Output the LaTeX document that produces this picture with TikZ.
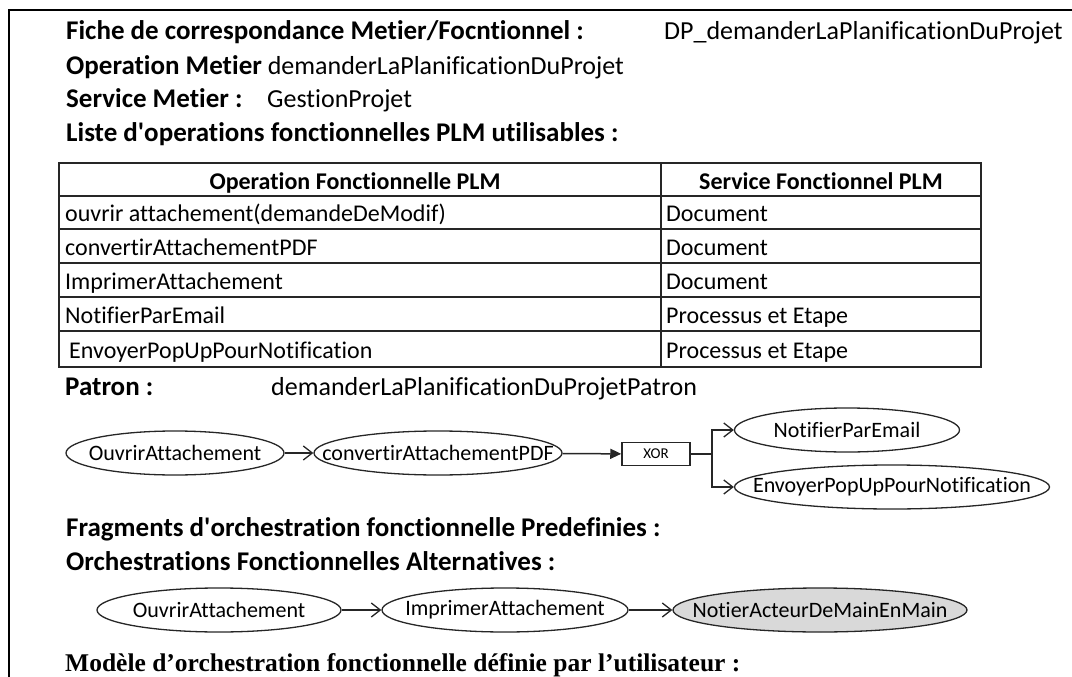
\documentclass[tikz,border=0pt]{standalone}
\usepackage{fontspec}
\setmainfont{Carlito}[Ligatures=NoCommon]
\newfontfamily\timesfam{Liberation Serif}
\usetikzlibrary{arrows.meta,shapes.geometric}
\newcommand\fHd{\fontsize{27}{32}\selectfont}
\newcommand\fHr{\fontsize{26}{31}\selectfont}
\newcommand\fTb{\fontsize{24}{29}\selectfont}
\newcommand\fEl{\fontsize{22}{26}\selectfont}
\newcommand\fXo{\fontsize{15}{18}\selectfont}
\newcommand\fTm{\fontsize{25.5}{30}\selectfont}
\begin{document}
\begin{tikzpicture}[x=1pt,y=-1pt,
  txt/.style={anchor=base west, inner sep=0pt, text=black},
  ctxt/.style={anchor=base, inner sep=0pt, text=black},
  ell/.style={ellipse, draw=black!85, line width=1.3pt, minimum height=44pt, inner sep=0pt, font=\fEl},
  barb/.style={-{Straight Barb[length=9pt,width=14pt]}, line width=1.3pt, draw=black!85},
  tri/.style={-{Triangle[length=11pt,width=10pt]}, line width=1.5pt, draw=black!85},
  plain/.style={line width=1.5pt, draw=black!85},
  gridline/.style={line width=1.8pt, draw=black!85}]
\useasboundingbox (0,0) rectangle (1072,677);
% frame
\draw[line width=2.6pt] (9,690) -- (9,10) -- (1085,10);
% header
\node[txt,font=\fHd\bfseries] (h1) at (66,40) {Fiche de correspondance Metier/Focntionnel :};
\node[txt,font=\fHr] (h1v) at (664,40) {DP\_demanderLaPlanificationDuProjet};
\node[txt,font=\fHr] (h2) at (66,75) {{\fHd\bfseries Operation Metier} demanderLaPlanificationDuProjet};
\node[txt,font=\fHd\bfseries] (h3) at (66,108) {Service Metier :};
\node[txt,font=\fHr] (h3v) at (267,108) {GestionProjet};
\node[txt,font=\fHd\bfseries] (h4) at (66,142) {Liste d\textquotesingle operations fonctionnelles PLM utilisables :};
% table
\draw[gridline] (59,163) rectangle (981,367);
\foreach \yy in {196,229,263,297,331} \draw[gridline] (59,\yy) -- (981,\yy);
\draw[gridline] (661,163) -- (661,367);
\node[ctxt,font=\fTb\bfseries] (th1) at (355,189) {Operation Fonctionnelle PLM};
\node[ctxt,font=\fTb\bfseries] (th2) at (821,189) {Service Fonctionnel PLM};
\node[txt,font=\fTb] (r1a) at (65,221.5) {ouvrir attachement(demandeDeModif)};
\node[txt,font=\fTb] (r1b) at (666,221.5) {Document};
\node[txt,font=\fTb] (r2a) at (65,255) {convertirAttachementPDF};
\node[txt,font=\fTb] (r2b) at (666,255) {Document};
\node[txt,font=\fTb] (r3a) at (65,289) {ImprimerAttachement};
\node[txt,font=\fTb] (r3b) at (666,289) {Document};
\node[txt,font=\fTb] (r4a) at (65,323) {NotifierParEmail};
\node[txt,font=\fTb] (r4b) at (666,323) {Processus et Etape};
\node[txt,font=\fTb] (r5a) at (69,358) {EnvoyerPopUpPourNotification};
\node[txt,font=\fTb] (r5b) at (666,358) {Processus et Etape};
% patron
\node[txt,font=\fHd\bfseries] (p1) at (65,395) {Patron :};
\node[txt,font=\fHr] (p1v) at (271,395) {demanderLaPlanificationDuProjetPatron};
\node[ell, minimum width=218pt] (o1) at (175,453) {\makebox[0pt]{OuvrirAttachement}};
\node[ell, minimum width=248pt] (cv) at (438,453) {\makebox[0pt]{convertirAttachementPDF}};
\node[draw=black!85, line width=1.5pt, minimum width=68pt, minimum height=23pt, inner sep=0pt, font=\fXo] (xr) at (656,454) {XOR};
\node[ell, minimum width=225pt] (ne) at (847,430) {\makebox[0pt]{NotifierParEmail}};
\node[ell, minimum width=315pt] (ep) at (892,487) {\makebox[0pt]{EnvoyerPopUpPourNotification}};
\coordinate (jn) at (712,454);
\draw[barb] (o1) -- (cv);
\draw[tri] (cv) -- (xr);
\draw[plain] (xr) -- (jn);
\draw[barb] (jn) |- (ne.west);
\draw[barb] (jn) |- (ep.west);
% fragments
\node[txt,font=\fHd\bfseries] (f1) at (66,536) {Fragments d\textquotesingle orchestration fonctionnelle Predefinies :};
\node[txt,font=\fHd\bfseries] (f2) at (66,570) {Orchestrations Fonctionnelles Alternatives :};
\node[ell, minimum width=244pt] (b1) at (219,610) {\makebox[0pt]{OuvrirAttachement}};
\node[ell, minimum width=246pt] (b2) at (505,610) {\makebox[0pt]{ImprimerAttachement}};
\node[ell, minimum width=294pt, fill=gray!30] (b3) at (820,610) {\makebox[0pt]{NotierActeurDeMainEnMain}};
\draw[barb] (b1) -- (b2);
\draw[barb] (b2) -- (b3);
\node[txt,font=\timesfam\fTm\bfseries] (m1) at (65,671) {Modèle d’orchestration fonctionnelle définie par l’utilisateur :};
\end{tikzpicture}
\end{document}
